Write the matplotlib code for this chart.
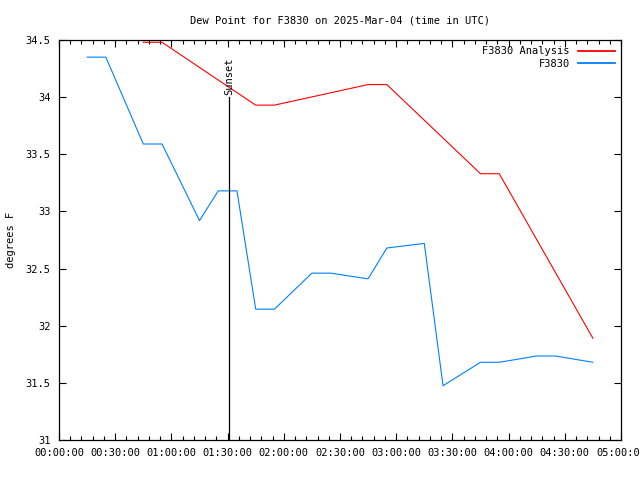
import matplotlib
matplotlib.use("Agg")
import matplotlib.pyplot as plt
from matplotlib.ticker import FuncFormatter, MultipleLocator

# times in minutes after 00:00 UTC
analysis_min = [45, 55, 105, 115, 165, 175, 225, 235, 285]
analysis_val = [34.48, 34.48, 33.93, 33.93, 34.11, 34.11, 33.33, 33.33, 31.89]

obs_min = [15, 25, 45, 55, 75, 85, 95, 105, 115, 135, 145, 165, 175, 195, 205,
           225, 235, 255, 265, 285]
obs_val = [34.35, 34.35, 33.59, 33.59, 32.92, 33.18, 33.18, 32.145, 32.145, 32.46,
           32.46, 32.41, 32.68, 32.72, 31.475, 31.68, 31.68, 31.735, 31.735, 31.68]

sunset_min = 91

plt.rcParams['font.family'] = ['DejaVu Sans Mono']
plt.rcParams['font.size'] = 7.5

fig = plt.figure(figsize=(6.4, 4.8), dpi=100)
ax = fig.add_axes([59/640, 40/480, 562/640, 400/480])

ax.plot(analysis_min, analysis_val, color='#ff0000', lw=0.8, label='F3830 Analysis')
ax.plot(obs_min, obs_val, color='#0080ff', lw=0.8, label='F3830')

ax.axvline(sunset_min, ymax=(34.0 - 31) / 3.5, color='black', lw=0.9)
ax.text(sunset_min, 34.02, 'Sunset', rotation=90, ha='center', va='bottom', fontsize=7.5)

ax.set_xlim(0, 300)
ax.set_ylim(31, 34.5)
ax.xaxis.set_major_locator(MultipleLocator(30))
ax.xaxis.set_minor_locator(MultipleLocator(6))
ax.xaxis.set_major_formatter(FuncFormatter(
    lambda v, p: '%02d:%02d:00' % (int(v) // 60, int(v) % 60)))
ax.yaxis.set_major_locator(MultipleLocator(0.5))
ax.yaxis.set_major_formatter(FuncFormatter(lambda v, p: ('%g' % v)))
ax.tick_params(which='both', direction='in', top=True, right=True)
ax.tick_params(which='major', length=5, width=0.8, pad=6)
ax.tick_params(which='minor', length=3, width=0.8)
for s in ax.spines.values():
    s.set_linewidth(0.9)

ax.set_title('Dew Point for F3830 on 2025-Mar-04 (time in UTC)', fontsize=7.5, pad=12)
ax.set_ylabel('degrees F', labelpad=7)

leg = ax.legend(loc='upper right', frameon=False, markerfirst=False, handlelength=3.5,
                borderaxespad=0.2, labelspacing=0.25, handletextpad=0.8)
for ln in leg.get_lines():
    ln.set_linewidth(1.3)

fig.savefig('out.png', dpi=100)
